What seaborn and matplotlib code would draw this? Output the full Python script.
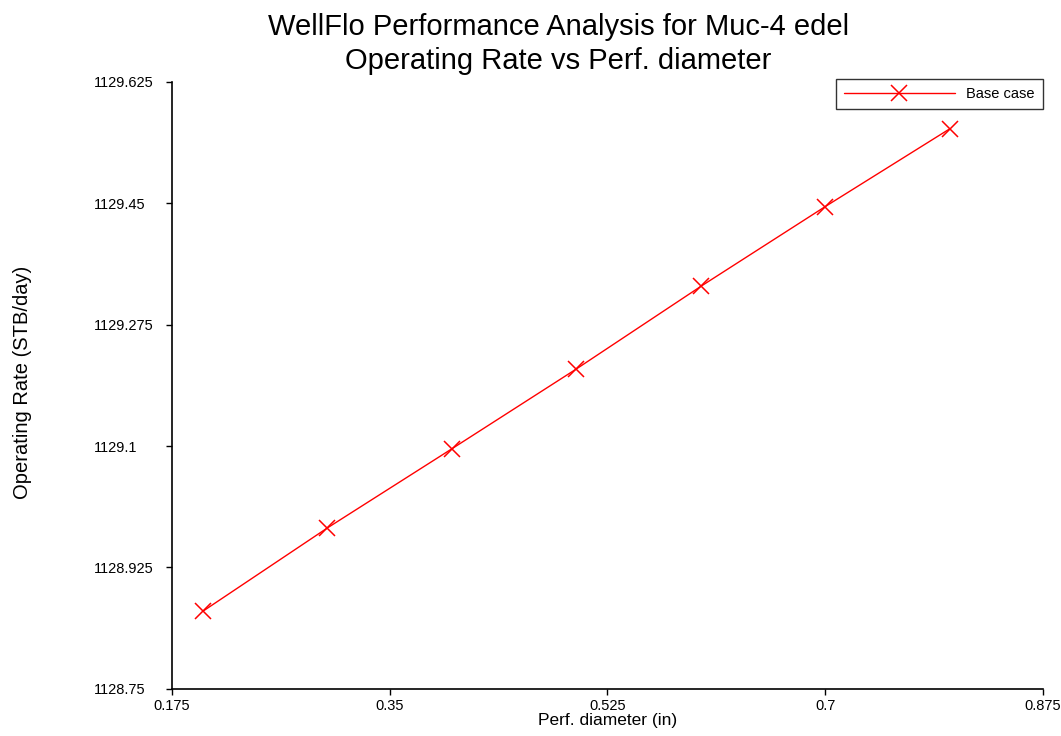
import pandas as pd
import numpy as np
import seaborn as sns
import matplotlib.pyplot as plt

perf_diameter = [0.2, 0.3, 0.4, 0.5, 0.6, 0.7, 0.8]
operating_rate = [1128.862, 1128.982, 1129.096, 1129.211, 1129.330, 1129.445, 1129.557]
series_name = "Base case"

x_ticks = [0.175, 0.35, 0.525, 0.7, 0.875]
x_labels = ["0.175", "0.35", "0.525", "0.7", "0.875"]
y_ticks = [1128.75, 1128.925, 1129.1, 1129.275, 1129.45, 1129.625]
y_labels = ["1128.75", "1128.925", "1129.1", "1129.275", "1129.45", "1129.625"]

sns.set_style("ticks")
plt.rcParams['font.family'] = ['Liberation Sans', 'DejaVu Sans']
plt.rcParams['text.color'] = 'black'
plt.rcParams['axes.labelcolor'] = 'black'

df = pd.DataFrame({"Perf. diameter (in)": perf_diameter,
                   "Operating Rate (STB/day)": operating_rate,
                   "case": series_name})

fig = plt.figure(figsize=(10.61, 7.36), dpi=100)
ax = fig.add_axes([0.162, 0.064, 0.821, 0.825])

sns.lineplot(data=df, x="Perf. diameter (in)", y="Operating Rate (STB/day)", hue="case",
             palette=["red"], marker="x", markersize=12, markeredgewidth=1.1,
             markeredgecolor="red", linewidth=1.0, ax=ax)

ax.set_xlim(0.175, 0.875)
ax.set_ylim(1128.75, 1129.625)
ax.set_xticks(x_ticks)
ax.set_xticklabels(x_labels)
ax.set_yticks(y_ticks)
ax.set_yticklabels(y_labels)
ax.tick_params(direction="out", length=4, width=1, labelsize=10.5, colors="black")
# left aligned y tick labels, as in the original
ax.tick_params(axis="y", pad=52)
for t in ax.get_yticklabels():
    t.set_horizontalalignment("left")
sns.despine(ax=ax)
for s in ["left", "bottom"]:
    ax.spines[s].set_color("black")
    ax.spines[s].set_linewidth(1.2)

ax.set_xlabel("Perf. diameter (in)", fontsize=12.5, labelpad=0)
ax.set_ylabel("Operating Rate (STB/day)", fontsize=14.5)
ax.yaxis.set_label_coords(-0.161, 0.505)
ax.set_title("WellFlo Performance Analysis for Muc-4 edel\nOperating Rate vs Perf. diameter",
             fontsize=21, linespacing=1.27, pad=9, x=0.444, color="black")

leg = ax.legend(loc="upper right", bbox_to_anchor=(1.0, 1.004), fontsize=10.5, frameon=True,
                fancybox=False, edgecolor="black", handlelength=7.6, borderaxespad=0.0,
                borderpad=0.55)
leg.get_frame().set_linewidth(1.0)

fig.savefig("out.png", dpi=100)
plt.close()
